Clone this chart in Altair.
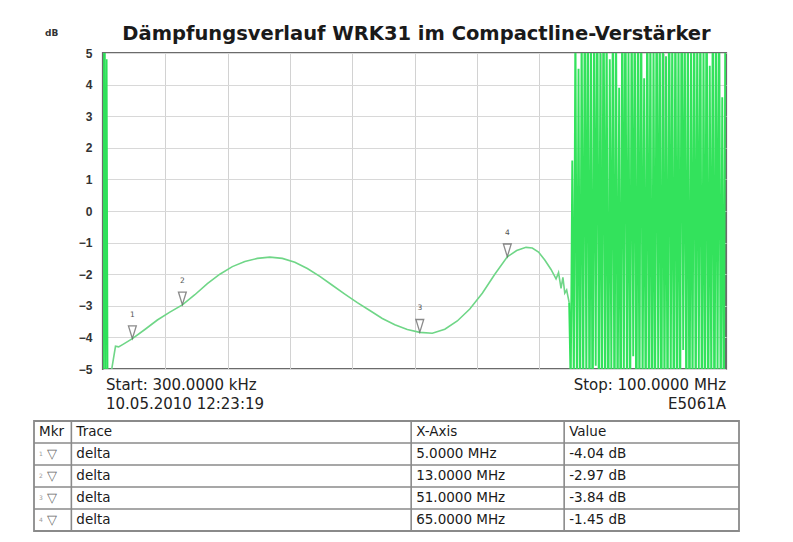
import altair as alt
import pandas as pd

# ---------------- data ----------------
chart_title = "Dämpfungsverlauf WRK31 im Compactline-Verstärker"

y_ticks = [-5, -4, -3, -2, -1, 0, 1, 2, 3, 4, 5]

# start-up transient at the left edge (MHz, dB)
spike_f = [0.3, 0.45, 0.6, 0.75, 0.9, 1.05, 1.2]
spike_db = [6.0, -6.0, 6.0, -5.5, 4.8, -5.8, -5.6]

# smooth part of the trace (MHz, dB)
smooth_f = [1.2, 2.3, 2.8, 3.5, 5.0, 7.0, 9.0, 11.0, 13.0, 15.0,
            17.0, 19.0, 21.0, 23.0, 25.0, 27.0, 29.0, 31.0, 33.0, 35.0,
            37.0, 39.0, 41.0, 43.0, 45.0, 47.0, 49.0, 51.0, 53.0, 55.0,
            57.0, 59.0, 61.0, 63.0, 65.0, 66.5, 68.0, 69.0, 70.0, 71.0,
            72.0, 72.8, 73.2, 73.6, 73.9, 74.2, 74.5, 74.9]
smooth_db = [-5.6, -4.28, -4.3, -4.22, -4.04, -3.75, -3.45, -3.2, -2.97, -2.65,
             -2.3, -2.0, -1.76, -1.6, -1.5, -1.46, -1.5, -1.62, -1.82, -2.07,
             -2.35, -2.63, -2.9, -3.15, -3.4, -3.6, -3.75, -3.84, -3.87, -3.74,
             -3.48, -3.1, -2.6, -2.0, -1.45, -1.25, -1.15, -1.17, -1.3, -1.55,
             -1.85, -2.15, -1.95, -2.45, -2.1, -2.6, -2.5, -2.9]

# noisy part above ~75 MHz, sweep points every 0.25 MHz (dB read as swings)
noise_start, noise_step = 74.9, 0.25
noise_db = [-2.9, -5.6, 1.6, -5.8, 6.2, -6.4, 4.5, -7.0, 6.2, -6.4,
            7.5, -5.8, 8.1, -7.7, 5.9, -8.3, 6.8, -4.9, 7.9, -6.6,
            5.4, -7.3, 8.6, -6.0, 6.3, -8.8, 4.8, -5.2, 7.1, -7.9,
            6.6, -6.9, 3.9, -8.1, 7.7, -5.5, 8.4, -6.3, 5.1, -7.5,
            6.9, -4.6, 7.4, -8.6, 6.1, -6.8, 8.8, -5.9, 4.2, -7.2,
            7.8, -6.5, 6.4, -8.4, 5.6, -7.0, 8.0, -5.3, 6.7, -8.9,
            7.2, -6.2, 4.9, -7.6, 8.3, -5.7, 6.0, -8.0, 7.6, -6.7,
            5.8, -7.8, 8.5, -4.4, 6.5, -7.4, 7.0, -8.5, 5.0, -6.1,
            8.2, -7.1, 6.2, -5.0, 7.3, -8.2, 5.5, -6.4, 8.7, -7.7,
            4.6, -6.0, 7.9, -8.7, 6.8, -5.4, 7.5, -6.9, 3.6, -7.3, 6.5]

# markers
mkr_id = [1, 2, 3, 4]
mkr_f = [5.0, 13.0, 51.0, 65.0]
mkr_db = [-4.04, -2.97, -3.84, -1.45]
mkr_trace = ["delta", "delta", "delta", "delta"]
mkr_xtxt = ["5.0000 MHz", "13.0000 MHz", "51.0000 MHz", "65.0000 MHz"]
mkr_vtxt = ["-4.04 dB", "-2.97 dB", "-3.84 dB", "-1.45 dB"]

start_txt = ["Start: 300.0000 kHz", "10.05.2010 12:23:19"]
stop_txt = ["Stop: 100.0000 MHz", "E5061A"]
f_start, f_stop = 0.3, 100.0

table_header = ["Mkr", "Trace", "X-Axis", "Value"]

# ---------------- frames ----------------
spike_df = pd.DataFrame({"f": spike_f, "db": spike_db})
smooth_df = pd.DataFrame({"f": smooth_f, "db": smooth_db})
noise_df = pd.DataFrame({"f": [round(noise_start + noise_step * i, 3) for i in range(len(noise_db))],
                         "db": noise_db})
mkr_df = pd.DataFrame({"id": mkr_id, "f": mkr_f, "db": mkr_db})

W, H = 623, 316
FONT = "DejaVu Sans"

x_scale = alt.Scale(domain=[f_start, f_stop], nice=False, zero=False)
y_scale = alt.Scale(domain=[-5, 5], nice=False, zero=False)
x_grid = [f_start + (f_stop - f_start) * k / 10 for k in range(1, 10)]

X_main = alt.X("f:Q", scale=x_scale,
               axis=alt.Axis(values=x_grid, labels=False, ticks=False, domain=False,
                             title=None, grid=True, gridColor="#d2d2d2", gridWidth=1))
Y_main = alt.Y("db:Q", scale=y_scale,
               axis=alt.Axis(values=y_ticks, title=None, ticks=False, domain=False,
                             labelFont="Liberation Sans", labelFontWeight="bold",
                             labelFontSize=12, labelColor="#333333", labelPadding=11,
                             grid=True, gridColor="#d8d8d8", gridWidth=1))

smooth = alt.Chart(smooth_df).mark_line(clip=True, color="#6fd687", strokeWidth=1.6).encode(x=X_main, y=Y_main)
spike = alt.Chart(spike_df).mark_line(clip=True, color="#2fe05a", strokeWidth=1.6).encode(x=X_main, y=Y_main)
noise = alt.Chart(noise_df).mark_line(clip=True, color="#33e25c", strokeWidth=1.9).encode(x=X_main, y=Y_main)

tri = alt.Chart(mkr_df).mark_point(shape="M-0.62,-1L0.62,-1L0,1Z", size=160, filled=False,
                                   stroke="#5a5a5a", strokeWidth=1.3, yOffset=-6.5
                                   ).encode(x=X_main, y=Y_main)
tri_num = alt.Chart(mkr_df).mark_text(fontSize=7.5, color="#555555", dy=-24, font=FONT
                                      ).encode(x=X_main, y=Y_main, text="id:Q")

left_df = pd.DataFrame({"f": [f_start, f_start], "t": start_txt})
right_df = pd.DataFrame({"f": [f_stop, f_stop], "t": stop_txt})


def ann(df, i, align, dx):
    return alt.Chart(df.iloc[[i]]).mark_text(align=align, baseline="middle", dx=dx, fontSize=15,
                                            font=FONT, color="#222222", clip=False
                                            ).encode(x=X_main, y=alt.value(H + 16 + 19 * i), text="t:N")


db_lbl = alt.Chart(pd.DataFrame({"t": ["dB"]})).mark_text(
    align="left", baseline="middle", fontSize=9, fontWeight="bold", font=FONT, color="#333333"
).encode(x=alt.value(-58), y=alt.value(-20), text="t:N")

title_lbl = alt.Chart(pd.DataFrame({"t": [chart_title]})).mark_text(
    align="center", baseline="middle", fontSize=19.5, fontWeight="bold", font=FONT, color="#1a1a1a"
).encode(x=alt.value(W / 2 + 2), y=alt.value(-19), text="t:N")

top = alt.layer(
    smooth, spike, noise, tri, tri_num,
    ann(left_df, 0, "left", 3), ann(left_df, 1, "left", 3),
    ann(right_df, 0, "right", 0), ann(right_df, 1, "right", 0),
    db_lbl, title_lbl,
).properties(width=W, height=H)

# ---------------- marker table ----------------
TH = 110
tab_left, tab_right = -69, 636   # table edges relative to the plot's left edge
col_edges = [0.0, 0.053, 0.535, 0.752, 1.0]
n_rows = 1 + len(mkr_id)

cells = []
for c, h in enumerate(table_header):
    cells.append({"row": 0.5, "x": col_edges[c], "t": h})
for i in range(len(mkr_id)):
    cells.append({"row": i + 1.5, "x": col_edges[1], "t": mkr_trace[i]})
    cells.append({"row": i + 1.5, "x": col_edges[2], "t": mkr_xtxt[i]})
    cells.append({"row": i + 1.5, "x": col_edges[3], "t": mkr_vtxt[i]})
cells_df = pd.DataFrame(cells)

mk_df = pd.DataFrame({"row": [i + 1.5 for i in range(len(mkr_id))],
                      "x": [0.0] * len(mkr_id), "id": mkr_id, "g": ["▽"] * len(mkr_id)})

tx = alt.Scale(domain=[0, 1], range=[tab_left, tab_right], nice=False, zero=False)
ty = alt.Scale(domain=[0, n_rows], nice=False, zero=False, reverse=True)
TX = alt.X("x:Q", scale=tx, axis=None)
TY = alt.Y("row:Q", scale=ty, axis=None)

cell_txt = alt.Chart(cells_df).mark_text(align="left", baseline="middle", dx=5, fontSize=13.5,
                                         font=FONT, color="#1a1a1a", clip=False
                                         ).encode(x=TX, y=TY, text="t:N")
mk_num = alt.Chart(mk_df).mark_text(align="left", baseline="middle", dx=5, fontSize=6,
                                    font=FONT, color="#9a9a9a").encode(x=TX, y=TY, text="id:Q")
mk_glyph = alt.Chart(mk_df).mark_text(align="left", baseline="middle", dx=13, fontSize=13,
                                      font=FONT, color="#6a6a6a").encode(x=TX, y=TY, text="g:N")

vlines = alt.Chart(pd.DataFrame({"x": col_edges[1:-1]})).mark_rule(
    color="#8a8a8a", strokeWidth=1.6).encode(x=TX, y=alt.value(0), y2=alt.value(TH))
hlines = alt.Chart(pd.DataFrame({"row": list(range(1, n_rows))})).mark_rule(
    color="#8a8a8a", strokeWidth=1.6).encode(y=TY, x=TX, x2=alt.X2("x2:Q")).transform_calculate(
    x="0", x2="1")
border = alt.Chart(pd.DataFrame({"x": [0.0], "x2": [1.0], "row": [0.0], "row2": [float(n_rows)]})).mark_rect(
    filled=False, stroke="#8a8a8a", strokeWidth=1.8).encode(x=TX, x2="x2:Q", y=TY, y2="row2:Q")

table = alt.layer(border, vlines, hlines, cell_txt, mk_num, mk_glyph).properties(
    width=W, height=TH,
    view=alt.ViewBackground(strokeOpacity=0),
)

chart = alt.vconcat(top, table, spacing=6, bounds="full").properties(
    padding={"left": 25, "top": 14, "right": 5, "bottom": 0},
    background="white",
).configure_view(stroke="#6b6b6b", strokeWidth=2.2)

chart.save("out.html", embed_options={"renderer": "svg", "actions": False})
